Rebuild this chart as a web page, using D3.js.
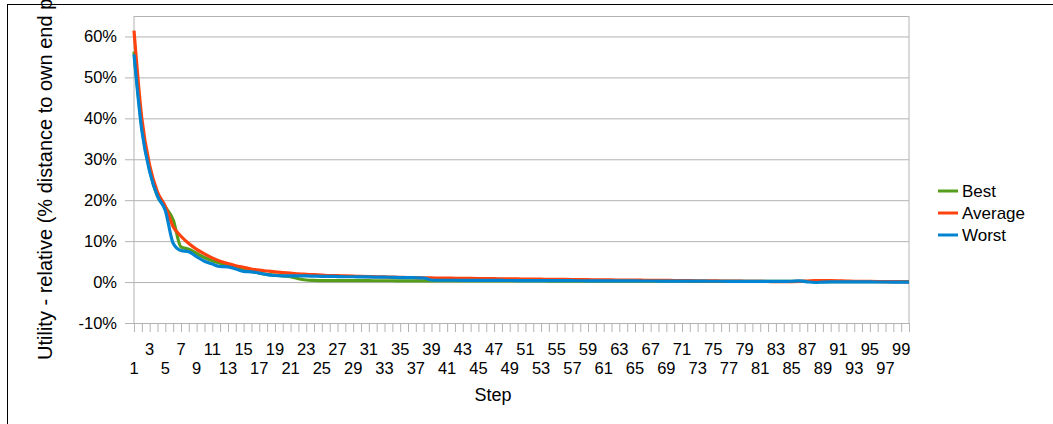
<!DOCTYPE html>
<html>
<head>
<meta charset="utf-8">
<script src="https://cdn.jsdelivr.net/npm/d3@7"></script>
<style>
  html, body { margin: 0; padding: 0; background: #fff; overflow: hidden; }
  svg { display: block; font-family: "Liberation Sans", Arial, sans-serif; }
</style>
</head>
<body>
<svg id="chart" width="1053" height="424"></svg>
<script>
// step numbers on the category axis
var steps = d3.range(1, 101);

// utility values in percent
var best = [
  56.3, 38.0, 27.5, 21.0, 18.3, 15.2, 8.6, 8.0, 7.0, 6.0,
  5.2, 4.6, 3.9, 3.4, 3.0, 2.6, 2.2, 1.9, 1.7, 1.5,
  1.3, 0.8, 0.5, 0.4, 0.35, 0.35, 0.34, 0.34, 0.33, 0.33,
  0.33, 0.32, 0.32, 0.32, 0.31, 0.31, 0.31, 0.3, 0.3, 0.3,
  0.3, 0.29, 0.29, 0.29, 0.28, 0.28, 0.28, 0.27, 0.27, 0.27,
  0.26, 0.26, 0.26, 0.25, 0.25, 0.25, 0.24, 0.24, 0.24, 0.23,
  0.23, 0.23, 0.22, 0.22, 0.22, 0.21, 0.21, 0.21, 0.2, 0.2,
  0.2, 0.19, 0.19, 0.19, 0.18, 0.18, 0.18, 0.17, 0.17, 0.17,
  0.16, 0.16, 0.16, 0.15, 0.15, 0.15, 0.14, 0.14, 0.13, 0.13,
  0.13, 0.12, 0.12, 0.12, 0.11, 0.11, 0.11, 0.1, 0.1, 0.1
];
var average = [
  61.4, 40.0, 28.5, 22.0, 18.5, 13.5, 11.2, 9.4, 8.0, 6.9,
  5.9, 5.1, 4.5, 4.0, 3.6, 3.2, 2.9, 2.7, 2.5, 2.3,
  2.2, 2.0, 1.9, 1.8, 1.7, 1.6, 1.55, 1.5, 1.45, 1.4,
  1.35, 1.3, 1.25, 1.2, 1.15, 1.12, 1.1, 1.05, 1.0, 0.98,
  0.95, 0.93, 0.9, 0.88, 0.86, 0.84, 0.82, 0.8, 0.78, 0.76,
  0.74, 0.72, 0.7, 0.68, 0.66, 0.64, 0.62, 0.6, 0.58, 0.56,
  0.54, 0.52, 0.5, 0.48, 0.46, 0.45, 0.44, 0.42, 0.4, 0.38,
  0.36, 0.34, 0.32, 0.3, 0.28, 0.26, 0.24, 0.22, 0.2, 0.18,
  0.16, 0.14, 0.12, 0.12, 0.12, 0.15, 0.25, 0.35, 0.38, 0.35,
  0.3, 0.25, 0.2, 0.18, 0.16, 0.14, 0.12, 0.1, 0.08, 0.06
];
var worst = [
  55.6, 37.0, 27.0, 21.0, 17.5, 9.5, 7.7, 7.4, 6.2, 5.1,
  4.4, 3.8, 3.7, 3.2, 2.6, 2.5, 2.2, 1.8, 1.6, 1.5,
  1.5, 1.5, 1.5, 1.45, 1.4, 1.4, 1.35, 1.3, 1.3, 1.25,
  1.25, 1.2, 1.2, 1.15, 1.1, 1.1, 1.05, 1.0, 0.5, 0.45,
  0.45, 0.44, 0.43, 0.42, 0.41, 0.4, 0.4, 0.39, 0.38, 0.37,
  0.37, 0.36, 0.35, 0.35, 0.34, 0.33, 0.33, 0.32, 0.31, 0.3,
  0.3, 0.29, 0.28, 0.28, 0.27, 0.26, 0.26, 0.25, 0.24, 0.24,
  0.23, 0.22, 0.22, 0.21, 0.2, 0.2, 0.19, 0.18, 0.18, 0.17,
  0.16, 0.16, 0.15, 0.15, 0.2, 0.3, 0.05, -0.1, 0.0, 0.05,
  0.05, 0.04, 0.04, 0.03, 0.03, 0.02, 0.02, 0.01, 0.01, 0.0
];

var yTicks = [-10, 0, 10, 20, 30, 40, 50, 60];
var seriesNames = ['Best', 'Average', 'Worst'];
var seriesColors = ['#579d1c', '#ff420e', '#0084d1'];
var series = [best, average, worst];

(function () {
  var svg = d3.select('#chart'),
      plotLeft = 134,
      plotRight = 909,
      plotTop = 16,
      plotBottom = 323,
      grey = '#b3b3b3';

  var x = d3.scaleLinear().domain([1, 100]).range([plotLeft, plotRight]),
      y = d3.scaleLinear().domain([-10, 65]).range([plotBottom, plotTop]);

  // outer frame (runs off the right and bottom edge)
  svg.append('rect')
    .attr('x', 7.5)
    .attr('y', 4.5)
    .attr('width', 1200)
    .attr('height', 600)
    .attr('fill', 'none')
    .attr('stroke', '#000')
    .attr('stroke-width', 1);

  // horizontal grid with outward ticks
  var yAxis = svg.append('g')
    .attr('transform', `translate(${plotLeft},0)`)
    .call(d3.axisLeft(y)
      .tickValues(yTicks)
      .tickSize(-(plotRight - plotLeft))
      .tickSizeOuter(0)
      .tickPadding(17)
      .tickFormat(d => d + '%'));
  yAxis.select('.domain').remove();
  yAxis.selectAll('.tick line')
    .attr('x1', -9)
    .attr('stroke', grey);
  yAxis.selectAll('.tick text')
    .attr('font-size', '16.5px')
    .attr('fill', '#000')
    .attr('font-family', '"Liberation Sans", Arial, sans-serif');

  // plot area border
  svg.append('rect')
    .attr('x', plotLeft)
    .attr('y', plotTop + 0.5)
    .attr('width', plotRight - plotLeft)
    .attr('height', plotBottom - plotTop)
    .attr('fill', 'none')
    .attr('stroke', grey)
    .attr('stroke-width', 1);

  // category axis: a tick at every step, labels at odd steps in two rows
  var xAxis = svg.append('g')
    .attr('transform', `translate(0,${plotBottom})`)
    .call(d3.axisBottom(x)
      .tickValues(steps)
      .tickSize(9)
      .tickSizeOuter(0)
      .tickFormat(''));
  xAxis.select('.domain').attr('stroke', grey);
  xAxis.selectAll('.tick line').attr('stroke', grey);

  svg.append('g')
    .selectAll('text')
    .data(steps.filter(d => d % 2 === 1))
    .join('text')
      .attr('x', d => x(d))
      .attr('y', d => (d % 4 === 3) ? 355 : 374)
      .attr('text-anchor', 'middle')
      .attr('font-size', '16.5px')
      .attr('fill', '#000')
      .text(d => d);

  // series lines
  var line = d3.line()
    .x((d, i) => x(steps[i]))
    .y(d => y(d))
    .curve(d3.curveMonotoneX);

  svg.append('g')
    .selectAll('path')
    .data(series)
    .join('path')
      .attr('d', line)
      .attr('fill', 'none')
      .attr('stroke', (d, i) => seriesColors[i])
      .attr('stroke-width', 3.2)
      .attr('stroke-linejoin', 'round');

  // axis titles
  svg.append('text')
    .attr('transform', 'translate(52,360) rotate(-90)')
    .attr('font-size', '20px')
    .attr('fill', '#000')
    .text('Utility - relative (% distance to own end point)');

  svg.append('text')
    .attr('x', 493)
    .attr('y', 401)
    .attr('text-anchor', 'middle')
    .attr('font-size', '18px')
    .attr('fill', '#000')
    .text('Step');

  // legend
  var legend = svg.append('g')
    .selectAll('g')
    .data(seriesNames)
    .join('g')
      .attr('transform', (d, i) => `translate(938,${191 + i * 22})`);
  legend.append('line')
    .attr('x1', 0)
    .attr('x2', 20)
    .attr('stroke', (d, i) => seriesColors[i])
    .attr('stroke-width', 3);
  legend.append('text')
    .attr('x', 24)
    .attr('y', 6)
    .attr('font-size', '17px')
    .attr('fill', '#000')
    .text(d => d);
})();
</script>
</body>
</html>
